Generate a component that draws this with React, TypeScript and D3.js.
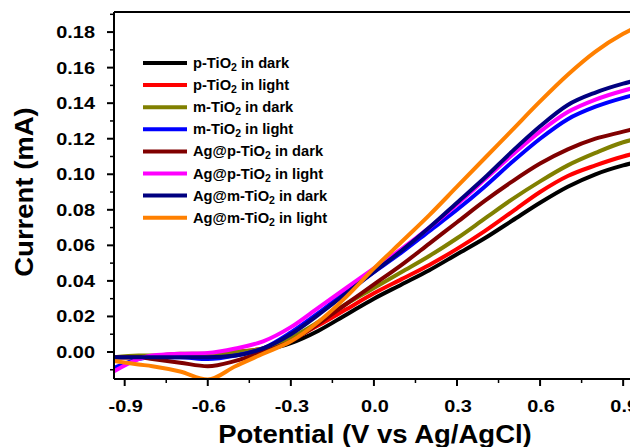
import React from "react";
import * as d3 from "d3";

const potentials = [-0.94, -0.85, -0.8, -0.7, -0.6, -0.5, -0.4, -0.3, -0.2, -0.1, 0.0, 0.1, 0.2, 0.3, 0.4, 0.5, 0.6, 0.7, 0.8, 0.9, 0.95];

const pTiO2Dark = [-0.003, -0.003, -0.003, -0.002, -0.002, -0.001, 0.001, 0.005, 0.012, 0.021, 0.030, 0.038, 0.046, 0.055, 0.064, 0.074, 0.084, 0.093, 0.100, 0.105, 0.107];
const pTiO2Light = [-0.003, -0.003, -0.003, -0.002, -0.002, 0.0, 0.002, 0.007, 0.015, 0.024, 0.033, 0.041, 0.049, 0.058, 0.068, 0.079, 0.090, 0.099, 0.105, 0.110, 0.112];
const mTiO2Dark = [-0.003, -0.002, -0.002, -0.001, -0.001, 0.0, 0.002, 0.008, 0.017, 0.027, 0.036, 0.045, 0.054, 0.064, 0.075, 0.086, 0.096, 0.105, 0.112, 0.118, 0.120];
const mTiO2Light = [-0.009, -0.004, -0.003, -0.003, -0.004, -0.002, 0.002, 0.011, 0.022, 0.034, 0.045, 0.056, 0.068, 0.080, 0.093, 0.107, 0.120, 0.131, 0.138, 0.143, 0.145];
const agPDark = [-0.003, -0.003, -0.004, -0.006, -0.008, -0.005, 0.0, 0.006, 0.016, 0.027, 0.038, 0.049, 0.061, 0.073, 0.085, 0.096, 0.106, 0.114, 0.120, 0.124, 0.126];
const agPLight = [-0.011, -0.004, -0.002, -0.001, -0.0005, 0.002, 0.006, 0.014, 0.025, 0.036, 0.047, 0.058, 0.070, 0.083, 0.097, 0.111, 0.124, 0.135, 0.142, 0.147, 0.149];
const agMDark = [-0.003, -0.003, -0.003, -0.003, -0.003, -0.002, 0.002, 0.010, 0.021, 0.033, 0.045, 0.057, 0.070, 0.084, 0.098, 0.113, 0.127, 0.139, 0.146, 0.151, 0.153];
const agMLight = [-0.005, -0.007, -0.008, -0.011, -0.0155, -0.008, -0.001, 0.006, 0.017, 0.031, 0.047, 0.062, 0.077, 0.093, 0.109, 0.125, 0.141, 0.156, 0.169, 0.179, 0.183];

const seriesNames = ["p-TiO|in dark", "p-TiO|in light", "m-TiO|in dark", "m-TiO|in light", "Ag@p-TiO|in dark", "Ag@p-TiO|in light", "Ag@m-TiO|in dark", "Ag@m-TiO|in light"];
const seriesValues = [pTiO2Dark, pTiO2Light, mTiO2Dark, mTiO2Light, agPDark, agPLight, agMDark, agMLight];
const seriesColors = ["#000000", "#ff0000", "#808000", "#0000ff", "#800000", "#ff00ff", "#000080", "#ff8000"];

const xTicks = [-0.9, -0.6, -0.3, 0.0, 0.3, 0.6, 0.9];
const xMinorTicks = [-0.75, -0.45, -0.15, 0.15, 0.45, 0.75];
const yTicks = [0.0, 0.02, 0.04, 0.06, 0.08, 0.1, 0.12, 0.14, 0.16, 0.18];
const yMinorTicks = [-0.01, 0.01, 0.03, 0.05, 0.07, 0.09, 0.11, 0.13, 0.15, 0.17, 0.19];

const FONT = "'Liberation Sans', Arial, sans-serif";

export default function App() {
  const W = 630, H = 447;
  const left = 114, right = 637, top = 12, bottom = 379;
  const x = d3.scaleLinear().domain([-0.9386, 0.95]).range([left, right]);
  const y = d3.scaleLinear().domain([-0.0152, 0.1913]).range([bottom, top]);
  const line = d3
    .line<[number, number]>()
    .x((d) => x(d[0]))
    .y((d) => y(d[1]))
    .curve(d3.curveMonotoneX);

  const legendX1 = 143, legendX2 = 187, legendY0 = 63, legendDy = 22.1;

  return (
    <svg width={W} height={H} style={{ position: "absolute", left: 0, top: 0, background: "#fff" }}>
      <defs>
        <clipPath id="plotclip">
          <rect x={left} y={top} width={right - left} height={bottom - top} />
        </clipPath>
      </defs>
      <rect x={0} y={0} width={W} height={H} fill="#fff" />
      <g clipPath="url(#plotclip)">
        {seriesValues.map((vals, i) => (
          <path
            key={i}
            d={line(potentials.map((p, j) => [p, vals[j]] as [number, number])) || ""}
            fill="none"
            stroke={seriesColors[i]}
            strokeWidth={4}
            strokeLinejoin="round"
          />
        ))}
      </g>
      {/* frame */}
      <line x1={left} x2={left} y1={top} y2={bottom} stroke="#000" strokeWidth={2} />
      <line x1={left} x2={right} y1={top} y2={top} stroke="#000" strokeWidth={2} />
      <line x1={left} x2={right} y1={bottom} y2={bottom} stroke="#000" strokeWidth={2} />
      <line x1={right} x2={right} y1={top} y2={bottom} stroke="#000" strokeWidth={2} />
      {/* y ticks */}
      {yTicks.map((t) => (
        <g key={"y" + t}>
          <line x1={left - 7} x2={left} y1={y(t)} y2={y(t)} stroke="#000" strokeWidth={2} />
          <text
            transform={`translate(95,${y(t) + 6}) scale(1.17,1)`}
            textAnchor="end"
            fontFamily={FONT}
            fontWeight="bold"
            fontSize={17}
          >
            {t.toFixed(2)}
          </text>
        </g>
      ))}
      {yMinorTicks.map((t) => (
        <line key={"ym" + t} x1={left - 4} x2={left} y1={y(t)} y2={y(t)} stroke="#000" strokeWidth={1.5} />
      ))}
      {/* x ticks */}
      {xTicks.map((t) => (
        <g key={"x" + t}>
          <line x1={x(t)} x2={x(t)} y1={bottom} y2={bottom + 7} stroke="#000" strokeWidth={2} />
          <text
            transform={`translate(${x(t) + 1},412) scale(1.17,1)`}
            textAnchor="middle"
            fontFamily={FONT}
            fontWeight="bold"
            fontSize={17}
          >
            {t.toFixed(1)}
          </text>
        </g>
      ))}
      {xMinorTicks.map((t) => (
        <line key={"xm" + t} x1={x(t)} x2={x(t)} y1={bottom} y2={bottom + 4} stroke="#000" strokeWidth={1.5} />
      ))}
      {/* axis titles */}
      <text
        transform="translate(375,443) scale(1.1,1)"
        textAnchor="middle"
        fontFamily={FONT}
        fontWeight="bold"
        fontSize={25}
      >
        Potential (V vs Ag/AgCl)
      </text>
      <text
        transform="translate(33,192) rotate(-90) scale(1.1,1)"
        textAnchor="middle"
        fontFamily={FONT}
        fontWeight="bold"
        fontSize={25}
      >
        Current (mA)
      </text>
      {/* legend */}
      {seriesNames.map((name, i) => {
        const [a, b] = name.split("|");
        const ly = legendY0 + i * legendDy;
        return (
          <g key={"lg" + i}>
            <line x1={legendX1} x2={legendX2} y1={ly} y2={ly} stroke={seriesColors[i]} strokeWidth={4} />
            <text
              transform={`translate(193,${ly + 5}) scale(1.05,1)`}
              fontFamily={FONT}
              fontWeight="bold"
              fontSize={14}
            >
              <tspan>{a}</tspan>
              <tspan fontSize={10} dy={3}>2</tspan>
              <tspan dy={-3}>{" " + b}</tspan>
            </text>
          </g>
        );
      })}
    </svg>
  );
}
